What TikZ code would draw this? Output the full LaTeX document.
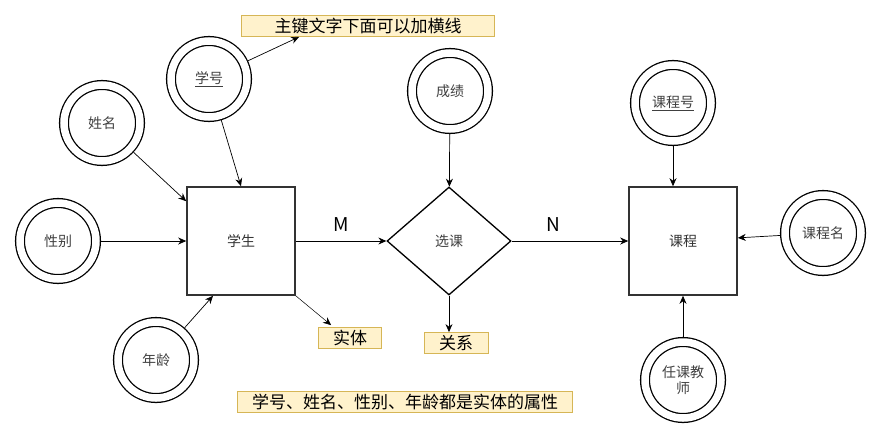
\documentclass[tikz,border=0pt]{standalone}
\usepackage{fontspec}
\setmainfont{Noto Sans CJK SC}
\usetikzlibrary{arrows.meta,shapes.geometric}
\definecolor{notefill}{HTML}{FFF2CC}
\definecolor{noteline}{HTML}{D6B656}
\tikzset{
  attr/.style={circle, draw, double, line width=1.3pt, double distance=7.5pt, minimum size=76pt, inner sep=0pt, outer sep=5pt, text=black!75, font=\fontsize{14}{16}\selectfont, align=center},
  entity/.style={rectangle, draw=black!80, line width=1.6pt, minimum size=108pt, text=black!80, font=\fontsize{14}{16}\selectfont},
  relation/.style={diamond, draw, line width=1.3pt, minimum width=124pt, minimum height=108pt, aspect=1.15, inner sep=0pt, font=\fontsize{14}{16}\selectfont, text=black!75},
  note/.style={rectangle, draw=noteline, fill=notefill, line width=0.8pt, minimum height=21pt, inner sep=1pt, font=\fontsize{17}{18}\selectfont},
  card/.style={above=6pt, font=\fontsize{19}{21}\selectfont},
  arr/.style={-{Stealth[length=8pt,width=7pt]}, line width=0.7pt}
}
\begin{document}
\begin{tikzpicture}[x=1pt, y=-1pt]
  \useasboundingbox (0,0) rectangle (878,445);

  \node[entity] (student) at (241,241) {学生};
  \node[relation] (select) at (449,241) {选课};
  \node[entity] (course) at (683,241) {课程};

  \node[attr] (xh) at (209,79) {\underline{学号}};
  \node[attr] (xm) at (102,123) {姓名};
  \node[attr] (xb) at (58,241) {性别};
  \node[attr] (nl) at (156,360) {年龄};
  \node[attr] (cj) at (450,91) {成绩};
  \node[attr] (kch) at (673,103) {\underline{课程号}};
  \node[attr] (kcm) at (823,233) {课程名};
  \node[attr] (rkjs) at (683,380) {任课教\\师};

  \node[note, minimum width=253pt] (keynote) at (368,26) {主键文字下面可以加横线};
  \node[note, minimum width=63pt] (shiti) at (350,338) {实体};
  \node[note, minimum width=64pt] (guanxi) at (456,343) {关系};
  \node[note, minimum width=335pt] (attrnote) at (405,402) {学号、姓名、性别、年龄都是实体的属性};

  \draw[arr] (xh) -- (student.north);
  \draw[arr] (xh) -- ([xshift=58pt]keynote.south west);
  \draw[arr] (xm) -- ([yshift=-15pt]student.north west);
  \draw[arr] (xb) -- (student);
  \draw[arr] (nl) -- ([xshift=-28pt]student.south);
  \draw[arr, line width=0.5pt] (student.south east) -- ([xshift=13pt,yshift=2pt]shiti.north west);

  \draw[arr] (student) -- node[card] {M} (select);
  \draw[arr] (select) -- node[card, pos=0.36] {N} (course);
  \draw[arr] (cj) -- (select);
  \draw[arr] (select) -- (select |- guanxi.north);

  \draw[arr] (kch) -- (kch |- course.north);
  \draw[arr] (kcm) -- (course);
  \draw[arr] (rkjs) -- (course);
\end{tikzpicture}
\end{document}
